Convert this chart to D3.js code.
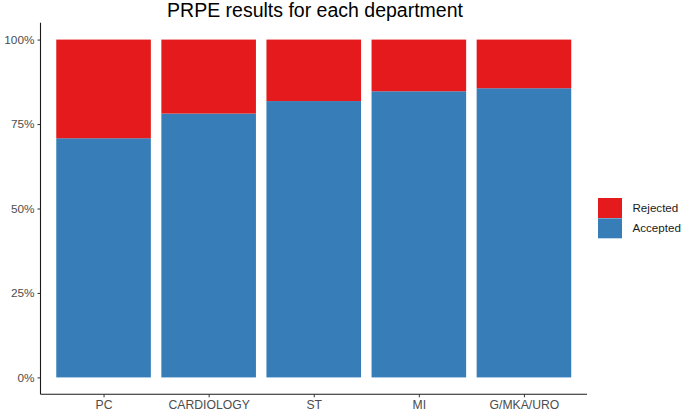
<!DOCTYPE html>
<html><head><meta charset="utf-8">
<script src="https://cdn.jsdelivr.net/npm/d3@7"></script>
<style>body{margin:0;background:#fff}svg{display:block;font-family:"Liberation Sans",Arial,sans-serif}</style>
</head><body>
<svg id="c" width="685" height="411"></svg>
<script>
const categories = ["PC","CARDIOLOGY","ST","MI","G/MKA/URO"];
const accepted = [70.8, 78.1, 81.8, 84.7, 85.6];
const rejected = [29.2, 21.9, 18.2, 15.3, 14.4];
const yTicks = [0, 25, 50, 75, 100];
const yTickLabels = ["0%","25%","50%","75%","100%"];
const seriesNames = ["Rejected","Accepted"];
const colors = {Rejected:"#E41A1C", Accepted:"#377EB8"};

const svg = d3.select("#c");
const mLeft = 40.5, mRight = 587, mTop = 22.7, mBottom = 394.3;
// y scale with 5% expansion
const y = d3.scaleLinear().domain([-5, 105]).range([mBottom, mTop]);
// x: discrete with 0.6 expansion
const x = d3.scalePoint().domain(categories).range([mLeft, mRight]).padding(0.6);
const step = x.step();
const bw = step * 0.9;

const data = categories.map((c,i)=>({cat:c, Accepted:accepted[i], Rejected:rejected[i]}));
const stack = d3.stack().keys(["Accepted","Rejected"]);
const series = stack(data);

svg.append("g").selectAll("g").data(series).join("g")
  .attr("fill", d=>colors[d.key])
  .selectAll("rect").data(d=>d).join("rect")
  .attr("x", d=>x(d.data.cat)-bw/2)
  .attr("width", bw)
  .attr("y", d=>y(d[1]))
  .attr("height", d=>y(d[0])-y(d[1]));

// axes
const yAxis = d3.axisLeft(y).tickValues(yTicks).tickFormat((d,i)=>yTickLabels[i]).tickSize(3).tickPadding(3);
const gy = svg.append("g").attr("transform",`translate(${mLeft},0)`).call(yAxis);
gy.select(".domain").attr("d", `M-0,${mTop}V${mBottom}`).attr("stroke","#1a1a1a").attr("stroke-width",1.1);
gy.selectAll(".tick line").attr("stroke","#333");
gy.selectAll("text").attr("fill","#4d4d4d").style("font-size","11.8px").style("font-family","'Liberation Sans',Arial,sans-serif");

const xAxis = d3.axisBottom(x).tickSize(3).tickPadding(3.5);
const gx = svg.append("g").attr("transform",`translate(0,${mBottom})`).call(xAxis);
gx.select(".domain").attr("d", `M${mLeft},0H${mRight}`).attr("stroke","#1a1a1a").attr("stroke-width",1.1);
gx.selectAll(".tick line").attr("stroke","#333");
gx.selectAll("text").attr("fill","#4d4d4d").style("font-size","12.2px").style("font-family","'Liberation Sans',Arial,sans-serif");

// title
svg.append("text").attr("x", 315).attr("y", 17)
  .attr("text-anchor","middle").attr("fill","#000")
  .style("font-size","19.5px").text("PRPE results for each department");

// legend
const lg = svg.append("g").attr("transform","translate(598,198)");
seriesNames.forEach((n,i)=>{
  lg.append("rect").attr("x",0).attr("y",i*20.3).attr("width",24).attr("height",20).attr("fill",colors[n]);
  lg.append("text").attr("x",34.5).attr("y",i*20.3+10).attr("dy","0.35em")
    .attr("fill","#1a1a1a").style("font-size","11.6px").text(n);
});
</script>
</body></html>
